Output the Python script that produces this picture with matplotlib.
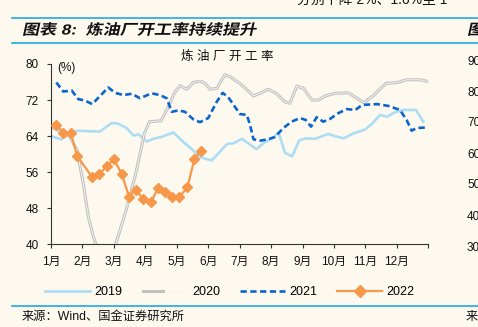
import numpy as np
import matplotlib
matplotlib.use("Agg")
import matplotlib.pyplot as plt
from matplotlib.lines import Line2D
from matplotlib.transforms import Affine2D
from matplotlib import patheffects
from matplotlib.legend_handler import HandlerTuple

plt.rcParams['font.family'] = ['Liberation Sans', 'Noto Sans CJK SC']
plt.rcParams['axes.unicode_minus'] = False

# weekly refinery utilisation, x in months from Jan 1
x_2019 = [0.0, 0.33, 0.6, 0.87, 1.2, 1.55, 1.93, 2.12, 2.4, 2.63, 2.78, 3.05, 3.29, 3.5, 3.89,
          4.21, 4.53, 4.69, 5.11, 5.38, 5.61, 5.8, 6.07, 6.54, 6.78, 7.04, 7.24, 7.44, 7.67,
          7.89, 8.1, 8.4, 8.82, 9.03, 9.3, 9.62, 10.0, 10.25, 10.46, 10.68, 10.94, 11.21,
          11.61, 11.84]
y_2019 = [64.0, 63.3, 64.8, 65.2, 65.1, 65.0, 66.9, 66.8, 65.8, 64.1, 64.4, 62.8, 63.5, 63.8, 64.8,
          62.7, 60.8, 59.4, 58.6, 60.6, 62.3, 62.4, 63.4, 61.1, 62.6, 63.5, 64.8, 60.3, 59.5,
          63.0, 63.5, 63.4, 64.5, 64.0, 63.5, 64.6, 65.5, 67.0, 68.7, 68.3, 69.3, 69.8,
          69.8, 67.2]

x_2020 = [0.0, 0.3, 0.6, 0.83, 1.03, 1.19, 1.35, 1.5, 1.72, 1.95, 2.1, 2.39, 2.7, 2.97, 3.13,
          3.5, 3.71, 3.92, 4.1, 4.32, 4.53, 4.74, 4.9, 5.06, 5.27, 5.53, 5.69, 6.0, 6.2, 6.44,
          6.65, 6.91, 7.18, 7.44, 7.6, 7.82, 8.03, 8.3, 8.5, 8.72, 9.03, 9.46, 9.73, 9.95,
          10.27, 10.65, 11.02, 11.31, 11.74, 12.0]
y_2020 = [66.1, 65.0, 63.9, 60.8, 53.4, 46.0, 41.6, 38.5, 36.0, 37.5, 41.0, 47.6, 55.8, 64.6, 67.2,
          67.4, 70.2, 73.5, 75.2, 74.4, 75.9, 76.2, 75.7, 74.4, 74.6, 77.6, 77.2, 75.7, 74.5, 72.9,
          73.5, 74.4, 73.4, 71.6, 71.3, 75.1, 74.6, 72.0, 72.0, 72.9, 73.5, 73.6, 72.4, 71.4,
          73.1, 75.7, 75.9, 76.5, 76.5, 76.1]

x_2021 = [0.17, 0.39, 0.66, 0.87, 1.08, 1.31, 1.56, 1.82, 2.04, 2.3, 2.57, 2.83, 3.2, 3.47, 3.68,
          3.84, 4.05, 4.26, 4.53, 4.74, 5.0, 5.27, 5.46, 5.64, 5.85, 6.01, 6.23, 6.33, 6.44, 6.65,
          6.91, 7.12, 7.39, 7.65, 7.92, 8.1, 8.27, 8.45, 8.66, 8.87, 9.14, 9.41, 9.68, 9.89,
          10.1, 10.37, 10.73, 11.1, 11.31, 11.47, 11.63, 11.9]
y_2021 = [75.9, 73.9, 74.1, 72.2, 71.9, 71.1, 72.9, 74.8, 73.6, 73.1, 73.4, 72.4, 73.5, 73.1, 72.4,
          69.4, 69.7, 69.4, 67.7, 67.1, 68.0, 71.6, 73.6, 72.6, 70.5, 68.9, 68.7, 66.5, 63.3, 63.0,
          63.3, 63.8, 65.8, 67.2, 68.0, 67.6, 66.1, 68.2, 67.2, 67.8, 69.1, 70.0, 69.8, 70.9,
          71.0, 71.1, 70.7, 69.8, 67.6, 65.2, 65.8, 65.9]

x_2022 = [0.16, 0.39, 0.63, 0.84, 1.31, 1.54, 1.77, 2.0, 2.25, 2.48, 2.69, 2.94, 3.18, 3.41,
          3.63, 3.86, 4.08, 4.34, 4.56, 4.77]
y_2022 = [66.5, 64.8, 64.6, 59.5, 54.9, 55.6, 57.3, 58.9, 55.6, 50.6, 52.1, 50.0, 49.3, 52.6,
          51.5, 50.5, 50.4, 52.7, 58.9, 60.8]

months = ['1月', '2月', '3月', '4月', '5月', '6月', '7月', '8月', '9月', '10月', '11月', '12月']
y_ticks = [40, 48, 56, 64, 72, 80]

BG = '#FDF9EF'
RULE = '#1EA9E1'


class Oblique(patheffects.AbstractPathEffect):
    """Slant (and optionally widen) glyph paths around the text origin."""

    def __init__(self, slant=0.22, stretch=1.0):
        super().__init__()
        self.slant = slant
        self.stretch = stretch

    def draw_path(self, renderer, gc, tpath, affine, rgbFace=None):
        x0, y0 = affine.transform((0, 0))
        shear = Affine2D(np.array([[self.stretch, self.slant, 0], [0, 1, 0], [0, 0, 1]], float))
        tr = affine + Affine2D().translate(-x0, -y0) + shear + Affine2D().translate(x0, y0)
        renderer.draw_path(gc, tpath, tr, rgbFace)


W, H = 478, 327
fig = plt.figure(figsize=(W / 100, H / 100), dpi=100, facecolor=BG)
ax = fig.add_axes([51 / W, 1 - 244.3 / H, (428.3 - 51) / W, (244.3 - 64) / H])
ax.set_facecolor(BG)

ax.plot(x_2019, y_2019, color='#ADDDF5', lw=1.9, solid_joinstyle='round', zorder=2)
ax.plot(x_2020, y_2020, color='#C0C0C0', lw=2.2, solid_joinstyle='round', zorder=2)
ax.plot(x_2020, y_2020, color='#F4F2EE', lw=0.7, solid_joinstyle='round', zorder=2)
ax.plot(x_2021, y_2021, color='#0B65CC', lw=1.9, ls=(0, (2.4, 1.3)), zorder=3)
ax.plot(x_2022, y_2022, color='#F7974A', lw=1.6, marker='D', ms=4.8, mec='#F7974A', zorder=4)

ax.set_xlim(0, 12)
ax.set_ylim(40, 80)
ax.set_yticks(y_ticks)
ax.set_xticks(range(13))
ax.set_xticklabels(months + [''])
for s in ['top', 'right']:
    ax.spines[s].set_visible(False)
for s in ['left', 'bottom']:
    ax.spines[s].set_color('#333333')
    ax.spines[s].set_linewidth(0.8)
ax.tick_params(axis='both', direction='out', length=2.8, width=0.8, color='#333333',
               labelsize=8.5, labelcolor='#111111')
ax.tick_params(axis='y', pad=6)
ax.tick_params(axis='x', pad=5.5)

fig.text(57 / W, 1 - 68 / H, '(%)', fontsize=8.5, va='center', ha='left', color='#111111')
fig.text(227 / W, 1 - 57 / H, '炼 油 厂 开 工 率', fontsize=9, va='center', ha='center',
         color='#111111')

# legend
h19 = Line2D([], [], color='#ADDDF5', lw=1.9)
h20 = (Line2D([], [], color='#C0C0C0', lw=2.2), Line2D([], [], color='#F4F2EE', lw=0.7))
h21 = Line2D([], [], color='#0B65CC', lw=1.9, ls=(0, (2.4, 1.3)))
h22 = Line2D([], [], color='#F7974A', lw=1.6, marker='D', ms=5.8)
fig.legend([h19, h20, h21, h22], ['2019', '2020', '2021', '2022'], ncol=4,
           loc='center', bbox_to_anchor=(230 / W, 1 - 292 / H), frameon=False,
           fontsize=9, handlelength=3.6, handletextpad=0.35, columnspacing=1.6,
           handler_map={tuple: HandlerTuple(ndivide=None)})

# page furniture around the figure
for yy in (17.5, 43, 306):
    fig.add_artist(Line2D([12 / W, 1], [1 - yy / H, 1 - yy / H], transform=fig.transFigure,
                          color=RULE, lw=1.2))

heading = [Oblique(0.22, 1.17)]
fig.text(22 / W, 1 - 30.5 / H, '图表 8:  炼油厂开工率持续提升', fontsize=10.5, fontweight='bold',
         va='center', ha='left', color='#111111', path_effects=heading)
fig.text(467 / W, 1 - 30.5 / H, '图', fontsize=10.5, fontweight='bold',
         va='center', ha='left', color='#111111', path_effects=heading)
fig.text(297 / W, 1 - 4 / H, '分别下降 2%、1.6%至 1', fontsize=10, va='baseline', ha='left',
         color='#111111')
fig.text(22 / W, 1 - 317 / H, '来源：Wind、国金证券研究所', fontsize=8.8, va='center', ha='left',
         color='#111111')
fig.text(466 / W, 1 - 317 / H, '来', fontsize=8.8, va='center', ha='left', color='#111111')

for v, yy in zip([90, 80, 70, 60, 50, 40, 30], [62, 92.5, 123.5, 155, 185.5, 216.5, 248]):
    fig.text(467 / W, 1 - yy / H, str(v), fontsize=8.5, va='center', ha='left', color='#111111')

fig.savefig('out.png', dpi=100, facecolor=BG)
